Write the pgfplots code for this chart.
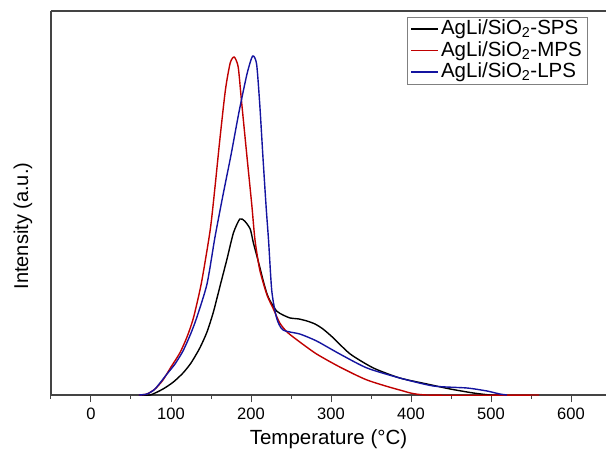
\documentclass[border=0pt]{standalone}
\usepackage{pgfplots}
\pgfplotsset{compat=1.18}
\usepackage{fontspec}
\setmainfont{Liberation Sans}
\definecolor{cred}{HTML}{C00000}
\definecolor{cblue}{HTML}{1414A0}
\definecolor{axgray}{HTML}{444444}
\begin{document}
\begin{tikzpicture}
\useasboundingbox (-51pt,-53pt) rectangle (555pt,395pt);
\begin{axis}[
  scale only axis,
  width=555pt, height=384pt,
  at={(0,0)}, anchor=south west,
  xmin=-50, xmax=643.75,
  ymin=0, ymax=384,
  axis x line=box,
  axis y line=left,
  axis line style={-, axgray, line width=1.1pt},
  ytick=\empty,
  xtick={0,100,...,600},
  minor xtick={-50,50,150,...,650},
  xtick pos=bottom,
  tick align=outside,
  major tick length=7pt,
  minor tick length=4pt,
  every tick/.style={axgray, line width=1pt},
  /pgf/number format/assume math mode=true,
  tick label style={font=\fontsize{16.5}{19}\selectfont},
  xticklabel style={yshift=-2pt},
  xlabel={Temperature (°C)},
  xlabel style={font=\fontsize{20.5}{24}\selectfont, yshift=-4pt},
  ylabel={Intensity (a.u.)},
  ylabel style={font=\fontsize{20}{24}\selectfont, at={(axis description cs:-0.0505,0.44)}, anchor=center},
  legend style={at={(rel axis cs:1,1)}, anchor=north east, xshift=-18pt, yshift=-6pt,
    draw=gray, line width=0.6pt, font=\fontsize{20.5}{21.5}\selectfont,
    inner xsep=4pt, inner ysep=1pt,
    nodes={inner xsep=2pt, inner ysep=0.5pt, text depth=4.5pt, text height=16pt}, row sep=0pt, cells={anchor=west}},
  legend cell align=left,
  legend image code/.code={\draw[#1, line width=1.2pt] (0pt,0pt) -- (27pt,0pt);},
  clip=true,
]
\addplot[black, line width=1.4pt, smooth, tension=0.4] coordinates {
(60,0) (74,0) (90,6) (103,13) (115,22) (125,32) (136,47) (145,63) (153,83)
(161,108) (170,136) (178,162) (186,176) (192,174) (199,166) (203,152) (209,134) (215,115)
(220,101) (224,94) (232,84) (240,80) (249,77) (260,76) (270,74) (280,71) (290,66)
(303,57) (324,41) (353,27) (386,17) (420,11) (449,6) (478,2) (499,0) (510,0)
};
\addlegendentry{AgLi/SiO\textsubscript{2}-SPS}
\addplot[cred, line width=1.4pt, smooth, tension=0.4] coordinates {
(60,0) (70,1) (80,6) (90,15) (100,28) (111,42) (120,58) (128,77) (138,112)
(149,165) (155,208) (161,255) (168,305) (174,332) (179,338) (184,328) (188,295)
(195,238) (201,190) (205,155) (211,125) (220,100) (228,86) (236,72) (245,63)
(261,53) (282,41) (311,28) (345,15) (386,5) (420,0) (560,0)
};
\addlegendentry{AgLi/SiO\textsubscript{2}-MPS}
\addplot[cblue, line width=1.4pt, smooth, tension=0.4] coordinates {
(60,0) (70,1) (80,6) (95,21) (105,31) (115,44) (124,60) (132,77) (145,111)
(155,158) (165,200) (175,240) (185,283) (195,321) (202,339) (207,331)
(211,290) (215,237) (219,187) (222,154) (226,104) (232,77) (240,65) (261,61)
(282,54) (311,41) (345,27) (386,17) (428,9) (470,7) (495,4) (511,1) (520,0)
};
\addlegendentry{AgLi/SiO\textsubscript{2}-LPS}
\end{axis}
\end{tikzpicture}
\end{document}
